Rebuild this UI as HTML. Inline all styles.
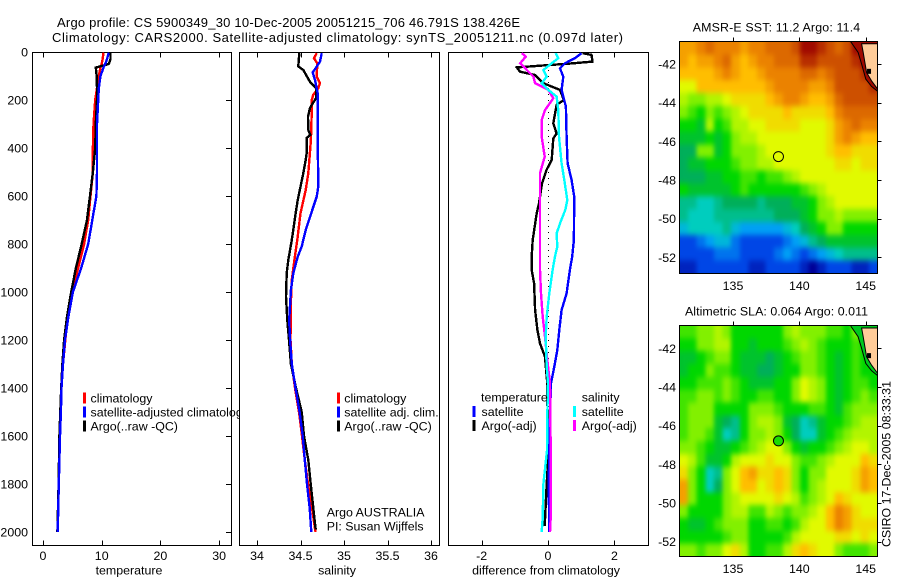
<!DOCTYPE html>
<html lang="en">
<head>
<meta charset="utf-8">
<title>Argo profile CS 5900349_30</title>
<style>
html,body{margin:0;padding:0;background:#fff;}
svg{display:block;}
text{font-family:"Liberation Sans",sans-serif;font-size:12.4px;fill:#000;}
</style>
</head>
<body>
<svg id="fig" xmlns="http://www.w3.org/2000/svg" width="900" height="580" viewBox="0 0 900 580">
  <defs>
    <filter id="soften" filterUnits="userSpaceOnUse" x="660" y="20" width="240" height="560" color-interpolation-filters="sRGB">
      <feGaussianBlur stdDeviation="2 3"/>
      <feComponentTransfer><feFuncA type="linear" slope="100" intercept="0"/></feComponentTransfer>
    </filter>
  </defs>
  <rect x="0" y="0" width="900" height="580" fill="#fff"/>
  <text x="57" y="27" style="font-size:13px" textLength="463" lengthAdjust="spacing">Argo profile: CS 5900349_30 10-Dec-2005 20051215_706 46.791S 138.426E</text>
  <text x="52" y="42" style="font-size:13px" textLength="571" lengthAdjust="spacing">Climatology: CARS2000. Satellite-adjusted climatology: synTS_20051211.nc (0.097d later)</text>
  <g id="p1"></g>
  <g id="p2"></g>
  <g id="p3"></g>
  <g id="m1"></g>
  <g id="m2"></g>
  <text transform="translate(890.5,547) rotate(-90)" textLength="166" lengthAdjust="spacing">CSIRO 17-Dec-2005 08:33:31</text>
</svg>
<script>
const depthTicks = [0,200,400,600,800,1000,1200,1400,1600,1800,2000];
const tempTicks = [0,10,20,30];
const salTicks = [34,34.5,35,35.5,36];
const salTickLabels = ['34','34.5','35','35.5','36'];
const diffTicks = [-2,0,2];
const lonTicks = [135,140,145];
const latTicks = [-42,-44,-46,-48,-50,-52];

const tempDepth = [3,30,50,65,100,150,200,300,400,500,600,700,800,900,1000,1100,1200,1300,1400,1500,1600,1800,2000];
const tempClim = [10.3,10.15,10,9.8,9.5,9.2,8.9,8.6,8.5,8.5,8.1,7.7,7,6,4.9,4.2,3.8,3.4,3.15,3,2.85,2.65,2.5];
const tempArgo = [11.5,11.5,11.2,9,9.15,9.2,9.2,9,8.9,8.5,8,7.5,6.6,5.6,4.8,4.1,3.6,3.3,3.1,2.95,2.8,2.65,2.45];
const tempSat = [11.2,10.9,10.6,10.3,9.8,9.5,9.4,9.2,9.2,9.2,9.1,8.4,7.7,6.5,5.1,4.35,3.75,3.4,3.15,3.05,2.9,2.7,2.5];

const salClimDepth = [5,26,47,103,130,151,178,200,256,367,505,575,672,783,867,950,1061,1117,1200,1300,1400,1500,1600,1700,1800,1900,2000];
const salClim = [34.686,34.655,34.693,34.686,34.724,34.705,34.647,34.629,34.629,34.62,34.59,34.56,34.5,34.463,34.43,34.4,34.387,34.387,34.385,34.4,34.437,34.483,34.517,34.55,34.586,34.632,34.672];
const salSatDepth = [5,40,61,85,117,172,367,561,603,658,742,811,853,922,992,1117,1200,1300,1400,1500,1600,1700,1800,1900,2000];
const salSat = [34.744,34.724,34.686,34.64,34.667,34.698,34.698,34.705,34.686,34.636,34.56,34.514,34.468,34.417,34.39,34.37,34.38,34.4,34.443,34.49,34.525,34.55,34.575,34.606,34.624];
const salArgoDepth = [5,60,75,100,124,151,192,233,270,325,346,358,421,450,505,617,671,783,867,921,1020,1117,1200,1300,1400,1500,1600,1700,1800,1900,1990];
const salArgo = [34.486,34.475,34.532,34.571,34.609,34.678,34.678,34.609,34.586,34.59,34.613,34.571,34.571,34.56,34.532,34.468,34.445,34.4,34.36,34.341,34.333,34.348,34.368,34.39,34.448,34.514,34.54,34.59,34.617,34.647,34.675];

const diffTempArgoDepth = [5,12,40,47,64,82,96,130,158,200,220,297,340,360,450,490,547,630,672,783,852,908,964,1075,1158,1214,1270,1367,1450,1660,1800,1975];
const diffTempArgo = [1.04,1.31,1.34,0.76,-0.94,-0.84,-0.39,-0.14,0.36,0.48,0.26,0.16,0.26,0.16,0.11,-0.04,-0.18,-0.27,-0.34,-0.46,-0.49,-0.49,-0.42,-0.39,-0.32,-0.24,-0.09,-0.03,-0.02,0.02,-0.04,-0.1];
const diffTempSatDepth = [5,26,47,68,103,158,228,353,464,533,603,783,852,908,1006,1075,1158,1242,1311,1381,1520,1660,1800,2000];
const diffTempSat = [1.01,0.81,0.51,0.36,0.46,0.41,0.54,0.56,0.59,0.71,0.79,0.78,0.73,0.66,0.56,0.41,0.34,0.28,0.19,0.09,0.06,0.04,0.02,0.04];
const diffSalSatDepth = [5,26,47,75,103,130,158,186,242,353,464,533,617,658,707,756,811,852,908,1006,1103,1186,1311,1381,1520,1660,1800,1940,2000];
const diffSalSat = [0.23,0.31,0.11,-0.14,-0.04,-0.19,0.01,0.26,0.31,0.33,0.41,0.49,0.58,0.52,0.38,0.26,0.28,0.21,0.14,0.04,-0.04,-0.07,-0.04,0,-0.02,-0.03,-0.14,-0.16,-0.19];
const diffSalArgoDepth = [5,19,47,75,103,130,158,193,242,283,353,436,505,783,908,1006,1103,1186,1283,1381,1660,1940,2000];
const diffSalArgo = [-0.79,-0.67,-0.84,-0.64,-0.44,-0.39,0.01,0.16,-0.09,-0.19,-0.19,-0.1,-0.24,-0.24,-0.24,-0.21,-0.16,-0.09,-0.02,0.06,0.08,0.08,0.06];

/* Gridded map values, on the figure's colour-scale index (0 = coolest / lowest, 11 = warmest / highest) */
const sstGrid = [
[8.5,8.5,9,9.5,9,9,9,8.5,9,9,9.5,9.5,9.5,10,11,11,10.5,10,9.5,10,11,11,11],
[8.5,8,8.5,8.5,9,9.5,8.5,8,8.5,9,9,9.5,9.5,9.5,10.5,10.5,10,10,10,10,10.5,11,11],
[8,8,8,8,8.5,9,8.5,8,8,8.5,9,9,9,9,9.5,9.5,9,9.5,10,10,10,10.5,11],
[7,7,8,8,8,8,8,8,8,8,8.5,9,9,9,9,8.5,8.5,9,10,10,10,10,10.5],
[6.5,6,6,6.5,6.5,7,7.5,7.5,7.5,7.5,8,8.5,9,9,8.5,8,8,8.5,9.5,10,10,10,10],
[6,5.5,5,6,5.5,6,6.5,7,7.5,7.5,7.5,7.5,8,7.5,7.5,7.5,7.5,8,9,9.5,9.5,9.5,9.5],
[5,5,4.5,6.5,5,5.5,6.5,6.5,7,7,7.5,7.5,7.5,7.5,7,7,7,7.5,8.5,9,9.5,9,9],
[4.5,4.5,4.5,5,4.5,5,6,6.5,6.5,7,7,7,7,7,7,7,7,7.5,8.5,9,8.5,8,8],
[4,4,6,6,4.5,5,6,6,6,6.5,7,7,7,7,7,7,7,7.5,8,8,7.5,7.5,7.5],
[4,4.5,4.5,5,5,5,5.5,6,6,6.5,6.5,7,7,7,7,7,7,7,7.5,7.5,7,7.5,7.5],
[4,4,4,4.5,4.5,5,5,5.5,5.5,5,5.5,5.5,6,6.5,7,7,7,7,7,7,7,7,7],
[5,4.5,4.5,4.5,4.5,4.5,5,5.5,5,5,5,5,5,5,5.5,6,6.5,7,7,7,7,7,7],
[3.5,3.5,3,3,3.5,4,4,4,4,3.5,4,4,4,4.5,4.5,5,6,6.5,7,7,7,7,7],
[3.5,3,3,3,3.5,3.5,3.5,3.5,3.5,3.5,3.5,4,4,4,4.5,5,6,6,6.5,6,6,6,6],
[2.5,3,3,3,3,3.5,2.5,2,2,2,2,2,2.5,3,4,4.5,5,6,6,5,5,5,5],
[1,1,1.5,2,2.5,2.5,1.5,1,1,1,1,1,1.5,2,2.5,3.5,4,4.5,4.5,4.5,4.5,4.5,4.5],
[1,1,1,1,1.5,1.5,1.5,1,1,1,1,1.5,2,1.5,1,1.5,2,2.5,3,3.5,3.5,3.5,3.5],
[0.5,0.5,1,1,1,1,1,1,0.5,0.5,1,1,1,1,0.5,0,0.5,1,1,1,0.5,0.5,1]
];
const slaGrid = [
[5.5,5.5,6,6,6.5,6,5,5,5,5,5,5,6,6.5,6,6,6,5.5,5.5,5,6,6,6],
[5,5,6,6,6.5,6.5,5,5,4.5,5,5,5,5.5,6,6.5,6,5.5,5,5,5,5.5,5,5],
[4.5,4.5,5,5.5,6,6,5,4.5,4.5,4.5,4,4.5,5,5.5,6,6,5.5,5,4.5,5,5.5,5,5],
[4.5,5,5,6,5.5,5.5,5,4.5,4.5,4,4,4.5,5,5,6,6,5.5,5,4.5,5,5.5,5,5],
[5,5,5.5,5.5,5.5,6,5.5,5,4.5,4.5,4.5,5,5,6,7,6.5,6,5,4.5,5,5.5,5.5,5],
[5.5,5.5,6,6,5.5,6,5.5,5,5,5.5,5.5,5,5,6,7,6.5,6,5,4.5,5,5.5,6,5.5],
[5.5,6,6,6,5,5,5,5,6,6,6,5.5,5,5,5,5.5,5.5,5,4.5,5.5,6,6,6],
[5.5,6,6,6,4.5,4,3.5,5,6,6.5,6.5,6,4.5,4,3,3.5,4.5,5,5,5.5,6,6.5,6.5],
[5.5,6,6,5.5,4.5,3,3.5,5,6,6,6.5,6,5,4,3,3,4.5,5,5.5,6,6.5,6.5,6.5],
[6,6,5.5,5,4.5,4.5,5,5.5,6,6.5,7,7,6,5,4.5,5,5,5.5,6,6.5,7,7,6.5],
[7,6.5,5.5,4.5,4.5,5,6.5,7,7,7,7.5,7,7,6,5.5,5.5,6,6.5,7,7,7,8,7.5],
[7.5,6,5,3,3.5,6,7,8,8.5,7.5,7.5,8,7.5,6,5,6,6,7,7,7,7.5,8.5,8],
[8.5,6,5,3,4,6,7,8,8,7,7.5,8,7.5,6,5,6,6.5,7,7,7,7.5,8.5,8],
[8.5,6,5,5,5,6,6.5,7,7,7,7,7.5,7,6.5,5.5,6,6.5,7,8,7.5,7,7,7],
[6,5,5,5,5,6,6.5,6.5,5.5,5.5,6.5,6,5.5,6,6,6.5,7,8,9,8.5,7.5,7,7],
[5,4.5,4.5,5,5.5,6,6,6,5,5,5.5,5.5,5,5.5,6.5,7,7,8,9,8.5,7.5,7.5,7.5],
[5,5,5,5,5,5.5,6,6,5,5,5,5,5.5,6.5,7,7,7,7,7.5,7.5,7,7.5,7],
[6,6,5.5,6,6,7,7.5,6.5,5,5,5.5,5.5,6.5,7.5,8,7.5,7,7,6,5.5,5.5,5.5,6]
];
const argoSstValue = [7];
const argoSlaValue = [5.2];
const argoLon = [138.426];
const argoLat = [-46.791];
const coastLon = [144.69,144.81,144.94,145.07,145.44,146];
const coastLat = [-40.95,-41.4,-41.92,-42.44,-42.87,-43.39];
const shelfLon = [143.88,144.43,144.69,145.01,145.44,146];
const shelfLat = [-40.85,-41.4,-42,-42.78,-43.16,-43.47];

const colourStops = [[0,0,150],[0,70,230],[0,160,245],[0,205,190],[0,175,90],[0,215,0],[130,240,0],[225,250,0],[255,190,0],[235,130,0],[205,80,0],[160,10,0]];
const colourOf = v => {
  const i = Math.max(0, Math.min(10, Math.floor(v)));
  const t = Math.max(0, Math.min(1, v - i));
  const c = colourStops[i].map((a, k) => Math.round(a + (colourStops[i + 1][k] - a) * t));
  return 'rgb(' + c.join(',') + ')';
};

const NS = 'http://www.w3.org/2000/svg';
const mk = (parent, tag, attrs, txt) => {
  const el = document.createElementNS(NS, tag);
  for (const k in attrs) el.setAttribute(k, attrs[k]);
  if (txt !== undefined) el.textContent = txt;
  parent.appendChild(el);
  return el;
};

const yDepth = d => 52 + 0.24 * d;
const xTemp = v => 43 + v * 5.87;
const xSal = v => 257 + (v - 34) * 87;
const xDiff = v => 548 + v * 33.2;

function frame(g, key, left, right, ticks, labels, xFn, xlabel, xlabelX) {
  const bg = mk(g, 'rect', {x: left + 0.5, y: 52.5, width: right - left, height: 493, fill: '#fff', stroke: '#000', 'stroke-width': 1, 'shape-rendering': 'crispEdges'});
  
  
  ticks.forEach((t, i) => {
    const x = Math.round(xFn(t)) + 0.5;
    const top = mk(g, 'line', {x1: x, x2: x, y1: 52.5, y2: 57.5, stroke: '#000', 'shape-rendering': 'crispEdges'});
    
    
    const bot = mk(g, 'line', {x1: x, x2: x, y1: 540.5, y2: 545.5, stroke: '#000', 'shape-rendering': 'crispEdges'});
    
    
    const lab = mk(g, 'text', {x: xFn(t), y: 560, 'text-anchor': 'middle'}, labels[i]);
    
    
  });
  const xl = mk(g, 'text', {x: xlabelX, y: 574.5, 'text-anchor': 'middle'}, xlabel);
  
  
}

function profile(g, name, depths, vals, xFn, colour) {
  const pts = vals.map((v, i) => xFn(v).toFixed(1) + ',' + yDepth(depths[i]).toFixed(1)).join(' ');
  const pl = mk(g, 'polyline', {points: pts, fill: 'none', stroke: colour, 'stroke-width': 2.4, 'shape-rendering': 'crispEdges'});
  
  
}

function legendRow(g, name, barX, textX, baseline, colour, label) {
  const b = mk(g, 'rect', {x: barX, y: baseline - 10, width: 3, height: 11, fill: colour});
  
  
  const t = mk(g, 'text', {x: textX, y: baseline}, label);
  
  
}

/* Temperature panel */
const p1 = document.getElementById('p1');
frame(p1, 'temperature', 32, 231, tempTicks, tempTicks.map(String), xTemp, 'temperature', 129);
depthTicks.forEach(d => {
  const y = Math.round(yDepth(d)) + 0.5;
  const t = mk(p1, 'line', {x1: 226, x2: 231.5, y1: y, y2: y, stroke: '#000', 'shape-rendering': 'crispEdges'});
  
  
  const l = mk(p1, 'text', {x: 28, y: yDepth(d) + 4.5, 'text-anchor': 'end'}, String(d));
  
  
});
profile(p1, 'temperature-climatology-line', tempDepth, tempClim, xTemp, '#ff0000');
profile(p1, 'temperature-argo-line', tempDepth, tempArgo, xTemp, '#000000');
profile(p1, 'temperature-satellite-line', tempDepth, tempSat, xTemp, '#0000ff');
legendRow(p1, 'temperature-legend-climatology', 83, 90.5, 402.5, '#ff0000', 'climatology');
legendRow(p1, 'temperature-legend-satellite', 83, 90.5, 416.5, '#0000ff', 'satellite-adjusted climatology');
legendRow(p1, 'temperature-legend-argo', 83, 90.5, 430.5, '#000000', 'Argo(..raw -QC)');

/* Salinity panel */
const p2 = document.getElementById('p2');
frame(p2, 'salinity', 239, 439, salTicks, salTickLabels, xSal, 'salinity', 337);
profile(p2, 'salinity-climatology-line', salClimDepth, salClim, xSal, '#ff0000');
profile(p2, 'salinity-argo-line', salArgoDepth, salArgo, xSal, '#000000');
profile(p2, 'salinity-satellite-line', salSatDepth, salSat, xSal, '#0000ff');
legendRow(p2, 'salinity-legend-climatology', 337, 344.3, 402.5, '#ff0000', 'climatology');
legendRow(p2, 'salinity-legend-satellite', 337, 344.3, 416.5, '#0000ff', 'satellite adj. clim.');
legendRow(p2, 'salinity-legend-argo', 337, 344.3, 430.5, '#000000', 'Argo(..raw -QC)');
const src = mk(p2, 'text', {x: 326.7, y: 516.5}, 'Argo AUSTRALIA');


const pi = mk(p2, 'text', {x: 326.7, y: 530.5}, 'PI: Susan Wijffels');



/* Difference panel */
const p3 = document.getElementById('p3');
frame(p3, 'difference', 448, 648, diffTicks, diffTicks.map(String), xDiff, 'difference from climatology', 546);
const zero = mk(p3, 'line', {x1: xDiff(0) + 0.5, x2: xDiff(0) + 0.5, y1: yDepth(0), y2: yDepth(2000), stroke: '#000', 'stroke-width': 1, 'stroke-dasharray': '1 5', 'shape-rendering': 'crispEdges'});


profile(p3, 'diff-temperature-argo-line', diffTempArgoDepth, diffTempArgo, xDiff, '#000000');
profile(p3, 'diff-temperature-satellite-line', diffTempSatDepth, diffTempSat, xDiff, '#0000ff');
profile(p3, 'diff-salinity-argo-line', diffSalArgoDepth, diffSalArgo, xDiff, '#ff00ff');
profile(p3, 'diff-salinity-satellite-line', diffSalSatDepth, diffSalSat, xDiff, '#00ffff');
const lt = mk(p3, 'text', {x: 481, y: 401.7}, 'temperature');


const ls = mk(p3, 'text', {x: 581.7, y: 401.7}, 'salinity');


legendRow(p3, 'diff-legend-temperature-satellite', 472.5, 481.5, 416, '#0000ff', 'satellite');
legendRow(p3, 'diff-legend-temperature-argo', 472.5, 481.5, 430, '#000000', 'Argo(-adj)');
legendRow(p3, 'diff-legend-salinity-satellite', 573, 581.7, 416, '#00ffff', 'satellite');
legendRow(p3, 'diff-legend-salinity-argo', 573, 581.7, 430, '#ff00ff', 'Argo(-adj)');

/* Maps */
const mapX = lon => 733 + (lon - 135) * 13.27;
function drawMap(g, key, grid, title, titleX, titleW, titleY, top, bottom, lat42Y, argoValue, clipId) {
  const mapY = lat => lat42Y + (-42 - lat) * 19.33;
  const left = 679.5, right = 877.5;
  const t = mk(g, 'text', {x: titleX, y: titleY, textLength: titleW, lengthAdjust: 'spacing'}, title);
  
  
  const cp = mk(g, 'clipPath', {id: clipId});
  mk(cp, 'rect', {x: left, y: top, width: right - left, height: bottom - top});
  const body = mk(g, 'g', {'clip-path': 'url(#' + clipId + ')'});
  
  
  const heat = mk(body, 'g', {filter: 'url(#soften)'});
  
  
  const rows = grid.length, cols = grid[0].length;
  const cw = (right - left) / cols, ch = (bottom - top) / rows;
  grid.forEach((row, r) => row.forEach((v, c) => {
    const cell = mk(heat, 'rect', {x: (left + c * cw).toFixed(2), y: (top + r * ch).toFixed(2), width: (cw + 0.6).toFixed(2), height: (ch + 0.6).toFixed(2), fill: colourOf(v), 'shape-rendering': 'crispEdges'});
    
    
  }));
  const corner = [mapX(147), mapY(-40.95)];
  const landPts = coastLon.map((lon, i) => mapX(lon).toFixed(1) + ',' + mapY(coastLat[i]).toFixed(1));
  const shelfPts = shelfLon.map((lon, i) => mapX(lon).toFixed(1) + ',' + mapY(shelfLat[i]).toFixed(1));
  const wedge = mk(body, 'polygon', {points: shelfPts.join(' ') + ' ' + mapX(146).toFixed(1) + ',' + mapY(-40.8).toFixed(1), fill: key === 'sst-map' ? 'rgb(160,10,0)' : 'rgb(0,200,30)'});
  
  
  const land = mk(body, 'polygon', {points: landPts.join(' ') + ' ' + mapX(147).toFixed(1) + ',' + mapY(coastLat[5]).toFixed(1) + ' ' + corner[0].toFixed(1) + ',' + corner[1].toFixed(1), fill: '#ffcc99', stroke: '#000', 'stroke-width': 1});
  
  
  const shelf = mk(body, 'polyline', {points: shelfPts.join(' '), fill: 'none', stroke: '#000', 'stroke-width': 1});
  
  
  const harbour = mk(body, 'rect', {x: mapX(145.1), y: mapY(-42.25), width: 4, height: 5, fill: '#000'});
  
  
  const box = mk(g, 'rect', {x: left, y: top, width: right - left, height: bottom - top, fill: 'none', stroke: '#000', 'shape-rendering': 'crispEdges'});
  
  
  lonTicks.forEach(lon => {
    const x = Math.round(mapX(lon)) + 0.5;
    const tk = mk(g, 'line', {x1: x, x2: x, y1: top - 4, y2: top, stroke: '#000', 'shape-rendering': 'crispEdges'});
    
    
    const lb = mk(g, 'text', {x: mapX(lon), y: bottom + 16.5, 'text-anchor': 'middle'}, String(lon));
    
    
  });
  latTicks.forEach(lat => {
    const y = Math.round(mapY(lat)) + 0.5;
    const tk = mk(g, 'line', {x1: right, x2: right + 4, y1: y, y2: y, stroke: '#000', 'shape-rendering': 'crispEdges'});
    
    
    const lb = mk(g, 'text', {x: 676, y: mapY(lat) + 4.5, 'text-anchor': 'end'}, String(lat));
    
    
  });
  const dot = mk(g, 'circle', {cx: mapX(argoLon[0]), cy: mapY(argoLat[0]), r: 5, fill: colourOf(argoValue), stroke: '#000', 'stroke-width': 1});
  
  
}
drawMap(document.getElementById('m1'), 'sst-map', sstGrid, 'AMSR-E SST: 11.2  Argo: 11.4', 692.7, 167.5, 31.5, 41.5, 273.5, 64, argoSstValue[0], 'clip-sst');
drawMap(document.getElementById('m2'), 'sla-map', slaGrid, 'Altimetric SLA: 0.064  Argo: 0.011', 685, 183, 315.7, 325.5, 556.5, 348.3, argoSlaValue[0], 'clip-sla');
</script>
</body>
</html>
